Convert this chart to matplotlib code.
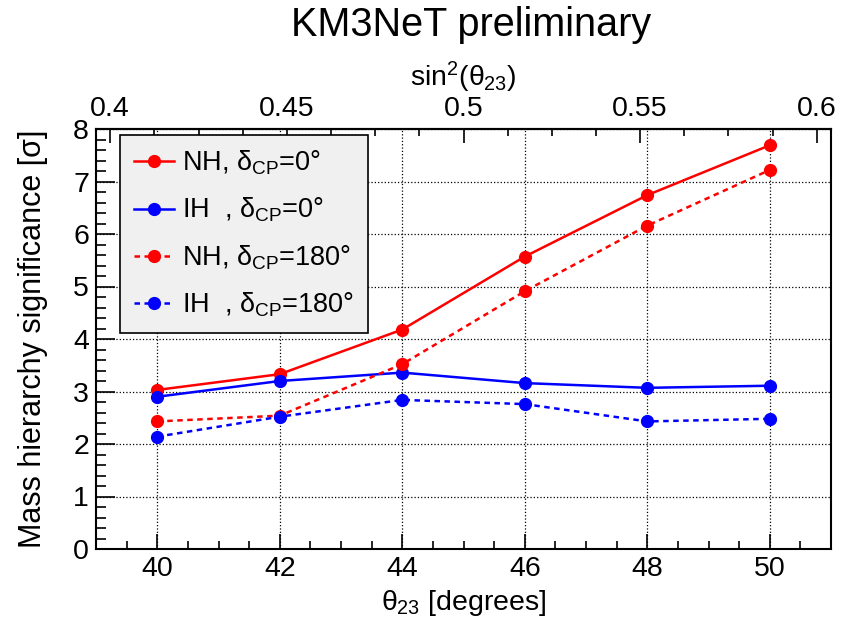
import numpy as np
import matplotlib
matplotlib.use("Agg")
import matplotlib.pyplot as plt
from matplotlib.ticker import MultipleLocator

# data
theta23 = [40, 42, 44, 46, 48, 50]
nh_cp0 = [3.03, 3.33, 4.18, 5.57, 6.74, 7.69]
ih_cp0 = [2.90, 3.20, 3.36, 3.16, 3.07, 3.11]
nh_cp180 = [2.43, 2.54, 3.52, 4.91, 6.16, 7.22]
ih_cp180 = [2.14, 2.52, 2.84, 2.76, 2.43, 2.48]

labels = [r"NH, $\delta_{\rm CP}$=0°",
          r"IH  , $\delta_{\rm CP}$=0°",
          r"NH, $\delta_{\rm CP}$=180°",
          r"IH  , $\delta_{\rm CP}$=180°"]

top_ticks = [0.4, 0.45, 0.5, 0.55, 0.6]
top_ticklabels = ["0.4", "0.45", "0.5", "0.55", "0.6"]

plt.rcParams['font.family'] = ['Liberation Sans', 'DejaVu Sans']
plt.rcParams['mathtext.fontset'] = 'custom'
plt.rcParams['mathtext.rm'] = 'Liberation Sans'
plt.rcParams['mathtext.it'] = 'Liberation Sans'
plt.rcParams['mathtext.bf'] = 'Liberation Sans'

W, H = 841, 632
fig = plt.figure(figsize=(W / 100, H / 100), dpi=100)
ax = fig.add_axes([96 / W, 1 - 549 / H, (831 - 96) / W, (549 - 129) / H])

lw = 1.8
ms = 8.5
ax.plot(theta23, nh_cp0, '-o', color='red', lw=lw, ms=ms, label=labels[0], zorder=3)
ax.plot(theta23, ih_cp0, '-o', color='blue', lw=lw, ms=ms, label=labels[1], zorder=3)
ax.plot(theta23, nh_cp180, 'o', ls=(0, (2.2, 1.8)), color='red', lw=lw, ms=ms,
        label=labels[2], zorder=3)
ax.plot(theta23, ih_cp180, 'o', ls=(0, (2.2, 1.8)), color='blue', lw=lw, ms=ms,
        label=labels[3], zorder=3)

ax.set_xlim(39, 51)
ax.set_ylim(0, 8)
ax.xaxis.set_major_locator(MultipleLocator(2))
ax.xaxis.set_minor_locator(MultipleLocator(0.5))
ax.yaxis.set_major_locator(MultipleLocator(1))
ax.yaxis.set_minor_locator(MultipleLocator(0.2))
ax.grid(True, which='major', color='black', ls=':', lw=0.9)

for s in ax.spines.values():
    s.set_linewidth(1.5)

ax.tick_params(axis='x', which='major', direction='in', length=11, width=1.2,
               labelsize=20.5, pad=5, top=False)
ax.tick_params(axis='x', which='minor', direction='in', length=5.5, width=1.2, top=False)
ax.tick_params(axis='y', which='major', direction='in', length=14, width=1.2,
               labelsize=20.5, pad=5, right=False)
ax.tick_params(axis='y', which='minor', direction='in', length=7, width=1.2, right=False)

ax.set_xlabel(r"$\theta_{23}$ [degrees]", fontsize=20.5, labelpad=4)
ax.set_ylabel("Mass hierarchy significance [σ]", fontsize=22, labelpad=18)

# top axis: sin^2(theta23), linear from 0.4 to 0.6 across the frame
d_lo = np.degrees(np.arcsin(np.sqrt(0.4)))
d_hi = np.degrees(np.arcsin(np.sqrt(0.6)))


def deg2s(d):
    return 0.4 + (np.asarray(d) - d_lo) * 0.2 / (d_hi - d_lo)


def s2deg(s):
    return d_lo + (np.asarray(s) - 0.4) * (d_hi - d_lo) / 0.2


sec = ax.secondary_xaxis('top', functions=(deg2s, s2deg))
sec.set_xticks(top_ticks)
sec.set_xticklabels(top_ticklabels)
sec.xaxis.set_minor_locator(MultipleLocator(0.0125))
sec.tick_params(which='major', direction='in', length=10, width=1.2, labelsize=20.5, pad=5)
sec.tick_params(which='minor', direction='in', length=5, width=1.2)
sec.spines['top'].set_linewidth(1.5)
sec.set_xlabel(r"sin$^{2}$($\theta_{23}$)", fontsize=20.5, labelpad=7)

fig.text(471 / W, 1 - 25 / H, "KM3NeT preliminary", fontsize=28.5,
         ha='center', va='center')

leg = ax.legend(loc='upper left', bbox_to_anchor=(120 / W, 1 - 135 / H),
                bbox_transform=fig.transFigure, borderaxespad=0,
                fontsize=19.5, frameon=True, fancybox=False, shadow=False,
                handlelength=1.5, handletextpad=0.3, labelspacing=0.7,
                borderpad=0.5)
leg.get_frame().set_facecolor('#f0f0f0')
leg.get_frame().set_edgecolor('black')
leg.get_frame().set_linewidth(1.2)
leg.get_frame().set_alpha(1)

fig.savefig("out.png", dpi=100)
